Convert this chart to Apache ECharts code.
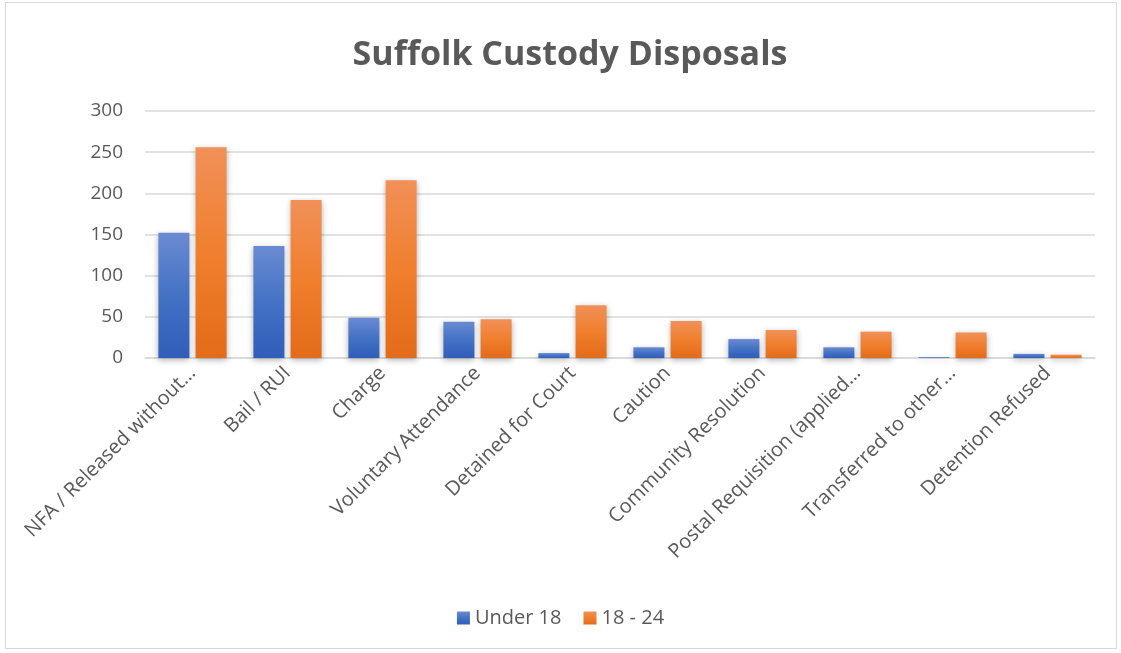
<!DOCTYPE html>
<html>
<head>
<meta charset="utf-8">
<script src="https://cdn.jsdelivr.net/npm/echarts@6/dist/echarts.min.js"></script>
<style>
  html, body { margin: 0; padding: 0; background: #fff; }
  #frame { position: absolute; left: 5px; top: 2px; width: 1112px; height: 647px; border: 1px solid #d9d9d9; box-sizing: border-box; }
  #chart { position: absolute; left: 0; top: 0; width: 1121px; height: 653px; }
</style>
</head>
<body>
<div id="frame"></div>
<div id="chart"></div>
<script>
var categories = ['NFA / Released without…', 'Bail / RUI', 'Charge', 'Voluntary Attendance', 'Detained for Court',
  'Caution', 'Community Resolution', 'Postal Requisition (applied…', 'Transferred to other…', 'Detention Refused'];
var under18 = [152, 136, 49, 44, 6, 13, 23, 13, 1, 5];
var age18to24 = [256, 192, 216, 47, 64, 45, 34, 32, 31, 4];
var yTicks = [0, 50, 100, 150, 200, 250, 300];

var txt = '#595959';
var font = '"Open Sans", "Liberation Sans", sans-serif';

function grad(top, mid, bottom) {
  return new echarts.graphic.LinearGradient(0, 0, 0, 1, [
    {offset: 0, color: top},
    {offset: 0.5, color: mid},
    {offset: 1, color: bottom}
  ]);
}

var chart = echarts.init(document.getElementById('chart'));
var option = {
  animation: false,
  title: {
    text: 'Suffolk Custody Disposals',
    left: 565,
    textAlign: 'center',
    top: 33,
    textStyle: { fontFamily: font, fontSize: 34, fontWeight: 'bold', color: txt }
  },
  legend: {
    bottom: 20,
    left: 'center',
    itemWidth: 13,
    itemHeight: 13,
    itemGap: 22,
    icon: 'rect',
    textStyle: { fontFamily: font, fontSize: 20, color: txt }
  },
  grid: { left: 145, right: 26, top: 111, bottom: 295 },
  xAxis: {
    type: 'category',
    data: categories,
    axisTick: { show: false },
    axisLine: { lineStyle: { color: '#d9d9d9', width: 1.5 } },
    axisLabel: { rotate: 45, interval: 0, margin: 12, fontFamily: font, fontSize: 20, color: txt }
  },
  yAxis: {
    type: 'value',
    min: yTicks[0],
    max: yTicks[yTicks.length - 1],
    interval: 50,
    axisLine: { show: false },
    axisTick: { show: false },
    splitLine: { lineStyle: { color: '#d9d9d9', width: 1.5 } },
    axisLabel: { margin: 22, fontFamily: font, fontSize: 19, color: txt }
  },
  series: [
    {
      name: 'Under 18',
      type: 'bar',
      data: under18,
      barWidth: 31,
      barGap: '20%',
      itemStyle: {
        color: grad('#6a8bd2', '#4472c4', '#2f5db9'),
        shadowBlur: 6, shadowColor: 'rgba(0,0,0,0.3)', shadowOffsetY: 2
      }
    },
    {
      name: '18 - 24',
      type: 'bar',
      data: age18to24,
      barWidth: 31,
      itemStyle: {
        color: grad('#f19058', '#f07f2e', '#e36b19'),
        shadowBlur: 6, shadowColor: 'rgba(0,0,0,0.3)', shadowOffsetY: 2
      }
    }
  ]
};
chart.setOption(option);
</script>
</body>
</html>
